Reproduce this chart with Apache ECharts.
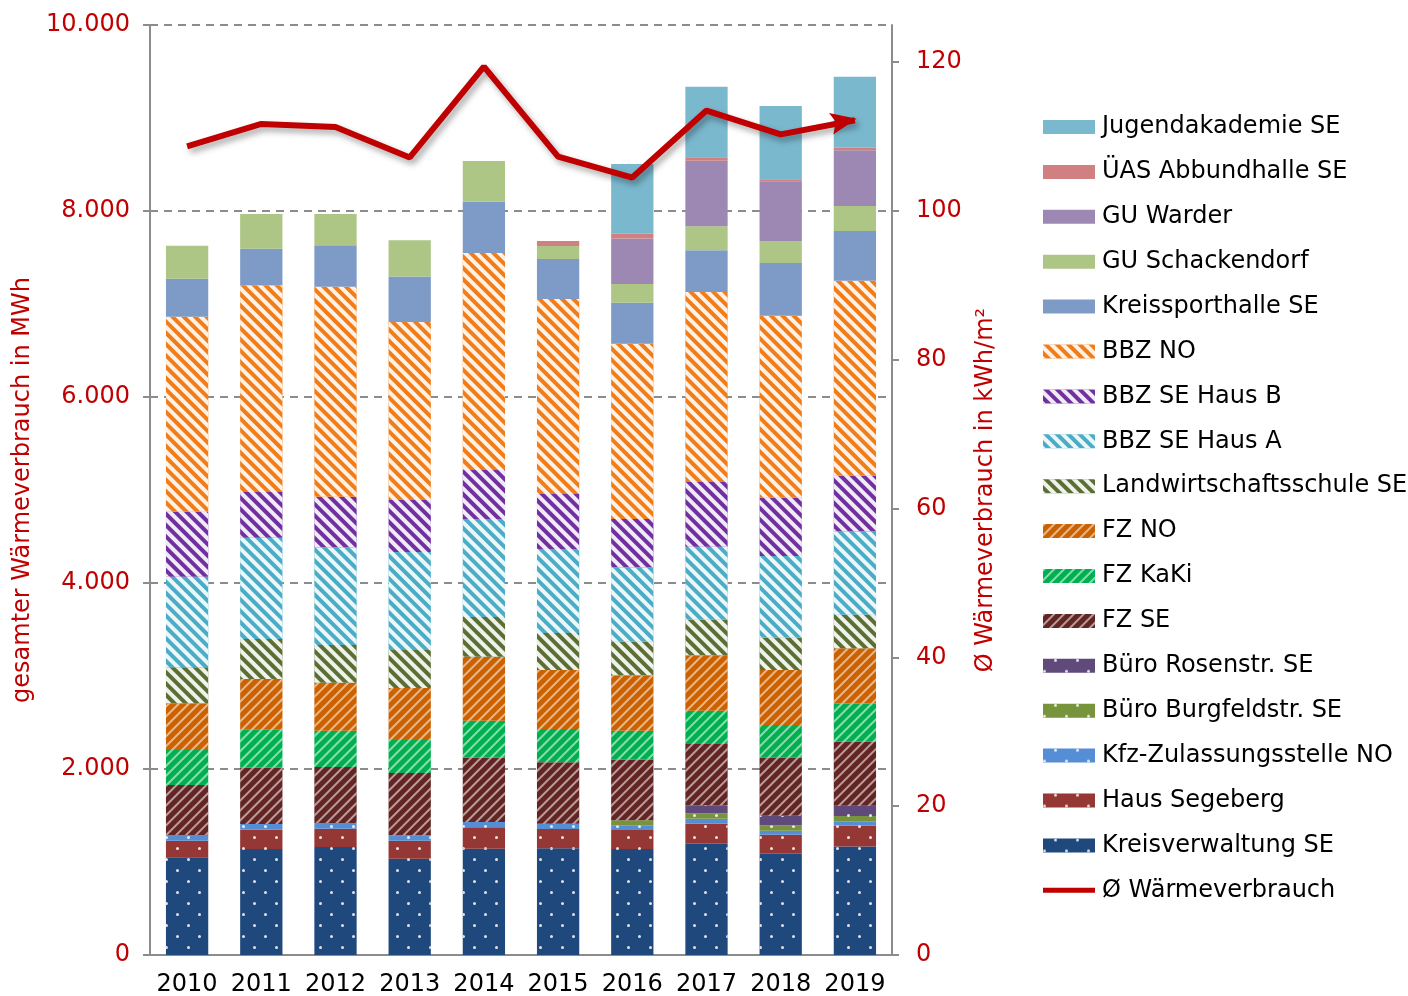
<!DOCTYPE html>
<html>
<head>
<meta charset="utf-8">
<script src="https://cdn.jsdelivr.net/npm/echarts@6/dist/echarts.min.js"></script>
<style>
  html, body { margin: 0; padding: 0; background: #fff; }
  #main { width: 1408px; height: 996px; }
</style>
</head>
<body>
<div id="main"></div>
<script>
const years = ['2010', '2011', '2012', '2013', '2014', '2015', '2016', '2017', '2018', '2019'];

// MWh per building, stacked bottom to top
const kreisverwaltung = [1050, 1140, 1161, 1036, 1143, 1147, 1140, 1197, 1089, 1168];
const hausSegeberg = [179, 208, 197, 193, 230, 208, 204, 215, 205, 223];
const kfzZulassung = [61, 61, 61, 58, 57, 57, 50, 54, 43, 46];
const bueroBurgfeld = [0, 0, 0, 0, 0, 0, 54, 57, 57, 58];
const bueroRosen = [0, 0, 0, 0, 0, 0, 0, 87, 104, 111];
const fzSE = [538, 605, 603, 670, 690, 660, 654, 659, 627, 688];
const fzKaKi = [376, 409, 390, 355, 399, 358, 310, 358, 348, 409];
const fzNO = [502, 545, 516, 559, 689, 635, 595, 595, 592, 595];
const landwirtschaft = [387, 430, 405, 409, 426, 397, 362, 384, 347, 361];
const bbzHausA = [975, 1089, 1051, 1053, 1054, 904, 800, 784, 878, 897];
const bbzHausB = [699, 491, 544, 559, 527, 591, 519, 696, 627, 598];
const bbzNO = [2097, 2223, 2258, 1914, 2333, 2097, 1885, 2043, 1957, 2097];
const kreissporthalle = [408, 394, 445, 491, 552, 430, 441, 448, 567, 534];
const guSchackendorf = [355, 373, 337, 388, 438, 140, 201, 258, 236, 269];
const guWarder = [0, 0, 0, 0, 0, 0, 488, 706, 642, 598];
const uasAbbund = [0, 0, 0, 0, 0, 53, 53, 36, 22, 29];
const jugendakademie = [0, 0, 0, 0, 0, 0, 749, 760, 788, 763];

// average kWh/m2
const avgConsumption = [108.7, 111.7, 111.3, 107.2, 119.4, 107.3, 104.5, 113.5, 110.3, 112.2];

const rightTicks = [0, 20, 40, 60, 80, 100, 120];

const RED = '#C00000';
const GREY = '#8c8c8c';
const FONT = 'DejaVu Sans';

const dots = {
  symbol: 'circle', symbolSize: 1, color: 'rgba(255,255,255,0.85)',
  dashArrayX: [[3, 18.5], [0, 10.75, 3, 7.75]], dashArrayY: [3, 7.7]
};
const backStripes = {
  symbol: 'rect', symbolSize: 1, color: 'rgba(255,255,255,0.9)',
  dashArrayX: [1, 0], dashArrayY: [3.5, 3.5], rotation: Math.PI / 4
};
const fwdStripes = {
  symbol: 'rect', symbolSize: 1, color: 'rgba(255,255,255,0.55)',
  dashArrayX: [1, 0], dashArrayY: [2, 4.5], rotation: -Math.PI / 4
};

const bars = [
  ['Kreisverwaltung SE', kreisverwaltung, '#1F497D', dots],
  ['Haus Segeberg', hausSegeberg, '#953735', dots],
  ['Kfz-Zulassungsstelle NO', kfzZulassung, '#558ED5', dots],
  ['Büro Burgfeldstr. SE', bueroBurgfeld, '#77933C', dots],
  ['Büro Rosenstr. SE', bueroRosen, '#604A7B', dots],
  ['FZ SE', fzSE, '#632523', fwdStripes],
  ['FZ KaKi', fzKaKi, '#00B050', fwdStripes],
  ['FZ NO', fzNO, '#CC6100', fwdStripes],
  ['Landwirtschaftsschule SE', landwirtschaft, '#5B6E33', backStripes],
  ['BBZ SE Haus A', bbzHausA, '#4BACC6', backStripes],
  ['BBZ SE Haus B', bbzHausB, '#7030A0', backStripes],
  ['BBZ NO', bbzNO, '#F07D18', backStripes],
  ['Kreissporthalle SE', kreissporthalle, '#7E9BC8', null],
  ['GU Schackendorf', guSchackendorf, '#ADC585', null],
  ['GU Warder', guWarder, '#9C88B2', null],
  ['ÜAS Abbundhalle SE', uasAbbund, '#D08080', null],
  ['Jugendakademie SE', jugendakademie, '#7AB8CE', null]
];

const lineName = 'Ø Wärmeverbrauch';
// arrow head pointing right, drawn at the last point of the line
const arrowHead = 'path://M0,0 L24,10 L0,20 L5,10 Z';

const series = bars.map(([name, values, color, decal]) => ({
  name: name,
  type: 'bar',
  stack: 'total',
  barWidth: '57%',
  data: values,
  itemStyle: decal ? { color: color, decal: decal } : { color: color }
}));

series.push({
  name: lineName,
  type: 'line',
  yAxisIndex: 1,
  z: 10,
  symbol: 'none',
  data: avgConsumption.map((v, i) => i === avgConsumption.length - 1
    ? { value: v, symbol: arrowHead, symbolSize: [26, 22], symbolRotate: 11, symbolOffset: [-11, 1] }
    : v),
  itemStyle: { color: RED },
  lineStyle: {
    color: RED, width: 6,
    shadowColor: 'rgba(0,0,0,0.35)', shadowBlur: 6, shadowOffsetX: 3, shadowOffsetY: 4
  }
});

const thousands = v => String(v).replace(/\B(?=(\d{3})+(?!\d))/g, '.');

const chart = echarts.init(document.getElementById('main'));
chart.setOption({
  animation: false,
  textStyle: { fontFamily: FONT },
  grid: { left: 150, right: 516, top: 25, bottom: 41, outerBoundsMode: 'none' },
  legend: {
    orient: 'vertical',
    left: 1043,
    top: 114,
    padding: 0,
    itemWidth: 52,
    itemHeight: 14,
    itemGap: 18.9,
    icon: 'rect',
    data: bars.map(b => b[0]).reverse().concat([{ name: lineName, icon: 'path://M0,0 L52,0 L52,5 L0,5 Z' }]),
    textStyle: { fontFamily: FONT, fontSize: 24, color: '#000', lineHeight: 26, padding: [0, 0, 0, 2] }
  },
  xAxis: {
    type: 'category',
    data: years,
    axisLine: { lineStyle: { color: GREY, width: 2 } },
    axisTick: { length: 8, lineStyle: { color: GREY, width: 2 } },
    axisLabel: { color: '#000', fontSize: 24, margin: 18, interval: 0, fontFamily: FONT }
  },
  yAxis: [
    {
      type: 'value',
      min: 0, max: 10000, interval: 2000,
      name: 'gesamter Wärmeverbrauch in MWh',
      nameLocation: 'middle',
      nameRotate: 90,
      nameGap: 112,
      nameTextStyle: { color: RED, fontSize: 24, fontFamily: FONT },
      axisLine: { show: true, lineStyle: { color: GREY, width: 2 } },
      axisTick: { show: true, length: 7, lineStyle: { color: GREY, width: 2 } },
      axisLabel: { color: RED, fontSize: 24, margin: 20, fontFamily: FONT, formatter: thousands },
      splitLine: { lineStyle: { color: GREY, width: 2, type: [8, 6] } }
    },
    {
      type: 'value',
      min: 0, max: 125,
      position: 'right',
      name: 'Ø Wärmeverbrauch in kWh/m²',
      nameLocation: 'middle',
      nameRotate: 90,
      nameGap: 82,
      nameTextStyle: { color: RED, fontSize: 24, fontFamily: FONT },
      axisLine: { show: true, lineStyle: { color: GREY, width: 2 } },
      axisTick: { show: true, length: 7, customValues: rightTicks, lineStyle: { color: GREY, width: 2 } },
      axisLabel: { color: RED, fontSize: 24, margin: 24, fontFamily: FONT, customValues: rightTicks },
      splitLine: { show: false }
    }
  ],
  series: series
});
</script>
</body>
</html>
